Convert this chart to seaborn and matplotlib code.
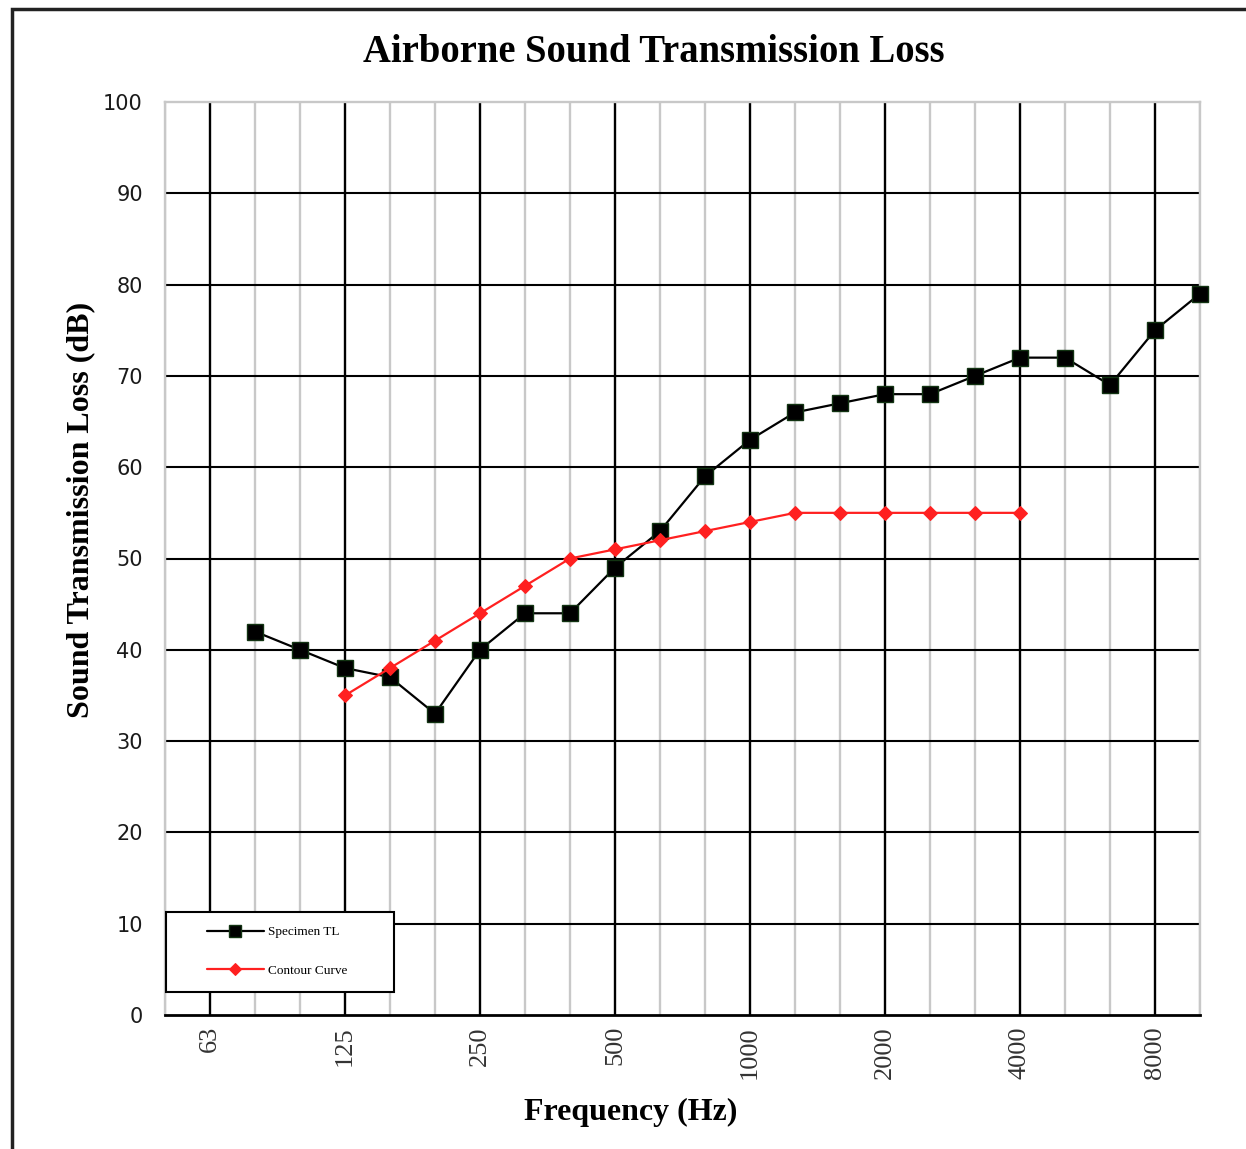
import matplotlib
matplotlib.use("Agg")
import matplotlib.pyplot as plt
import seaborn as sns
import pandas as pd
import numpy as np
from matplotlib.patches import Rectangle

# 1/3-octave band centre frequencies shown on the axis (50 Hz .. 10 kHz)
bands = [50, 63, 80, 100, 125, 160, 200, 250, 315, 400, 500, 630, 800,
         1000, 1250, 1600, 2000, 2500, 3150, 4000, 5000, 6300, 8000, 10000]
tick_labels = ["63", "125", "250", "500", "1000", "2000", "4000", "8000"]

spec_freq = [80, 100, 125, 160, 200, 250, 315, 400, 500, 630, 800, 1000,
             1250, 1600, 2000, 2500, 3150, 4000, 5000, 6300, 8000, 10000]
spec_tl = [42, 40, 38, 37, 33, 40, 44, 44, 49, 53, 59, 63,
           66, 67, 68, 68, 70, 72, 72, 69, 75, 79]

cont_freq = [125, 160, 200, 250, 315, 400, 500, 630, 800, 1000,
             1250, 1600, 2000, 2500, 3150, 4000]
cont_tl = [35, 38, 41, 44, 47, 50, 51, 52, 53, 54,
           55, 55, 55, 55, 55, 55]

sns.set_theme(style="white")
plt.rcParams["font.family"] = ["Liberation Serif", "DejaVu Serif"]
plt.rcParams["text.color"] = "black"

idx = {f: i for i, f in enumerate(bands)}
df_s = pd.DataFrame({"x": [idx[f] for f in spec_freq], "y": spec_tl,
                     "series": "Specimen TL"})
df_c = pd.DataFrame({"x": [idx[f] for f in cont_freq], "y": cont_tl,
                     "series": "Contour Curve"})

W, H = 1246, 1149
fig = plt.figure(figsize=(W/100, H/100), dpi=100)
ax = fig.add_axes([165/W, 1-1015/H, (1200-165)/W, (1015-102)/H])

# grid
for i, f in enumerate(bands):
    major = str(f) in tick_labels
    ax.axvline(i, color="black" if major else "#c8c8c8", lw=1.7, zorder=1)
for y in range(10, 100, 10):
    ax.axhline(y, color="black", lw=1.5, zorder=1)

sns.lineplot(data=df_s, x="x", y="y", ax=ax, color="black", lw=1.6,
             marker="s", markersize=11, markerfacecolor="black",
             markeredgecolor="#123312", markeredgewidth=1.0,
             label="Specimen TL", zorder=3, clip_on=False)
sns.lineplot(data=df_c, x="x", y="y", ax=ax, color="#ff2020", lw=1.6,
             marker="D", markersize=7.5, markerfacecolor="#ff2020",
             markeredgecolor="#ff2020", label="Contour Curve", zorder=4,
             clip_on=False)

ax.set_xlim(0, 23)
ax.set_ylim(0, 100)
ax.set_yticks(range(0, 101, 10))
ax.set_yticklabels([str(v) for v in range(0, 101, 10)],
                   fontfamily="DejaVu Sans", fontsize=15, color="#1a1a1a")
ax.set_xticks([idx[int(t)] for t in tick_labels])
ax.set_xticklabels(tick_labels, rotation=90, fontsize=19, color="#333333")
ax.tick_params(axis="x", length=0, pad=8)
ax.tick_params(axis="y", length=0, pad=16)

for s in ["top", "left", "right"]:
    ax.spines[s].set_color("#c8c8c8")
    ax.spines[s].set_linewidth(1.7)
ax.spines["bottom"].set_color("black")
ax.spines["bottom"].set_linewidth(2)

ax.set_xlabel("")
ax.set_ylabel("")
fig.text(631/W, 1-1112/H, "Frequency (Hz)", ha="center", va="center",
         fontsize=23, fontweight="bold")
fig.text(81/W, 1-510/H, "Sound Transmission Loss (dB)", ha="center",
         va="center", rotation=90, fontsize=23, fontweight="bold")
fig.text(654/W, 1-53/H, "Airborne Sound Transmission Loss",
         ha="center", va="center", fontsize=27.8, fontweight="bold")

# legend: frame drawn as a box, entries placed inside
ax.add_patch(Rectangle(((166-165)/1035, (1015-992)/913), 228/1035, 80/913,
                       transform=ax.transAxes, facecolor="white",
                       edgecolor="black", lw=1.5, zorder=5, clip_on=False))
leg = ax.legend(loc="upper left", bbox_to_anchor=((207-165)/1035, (1015-926)/913),
                fontsize=9.5, frameon=False, borderpad=0, borderaxespad=0,
                labelspacing=2.0, handlelength=4.3, handletextpad=0.35,
                markerscale=0.8)
leg.set_zorder(6)

# outer page border
fig.patches.append(Rectangle((12/W, -0.05), 1.2, 1-9/H + 0.05,
                             transform=fig.transFigure, fill=False,
                             edgecolor="#222222", lw=2.5))

fig.savefig("out.png", dpi=100)
